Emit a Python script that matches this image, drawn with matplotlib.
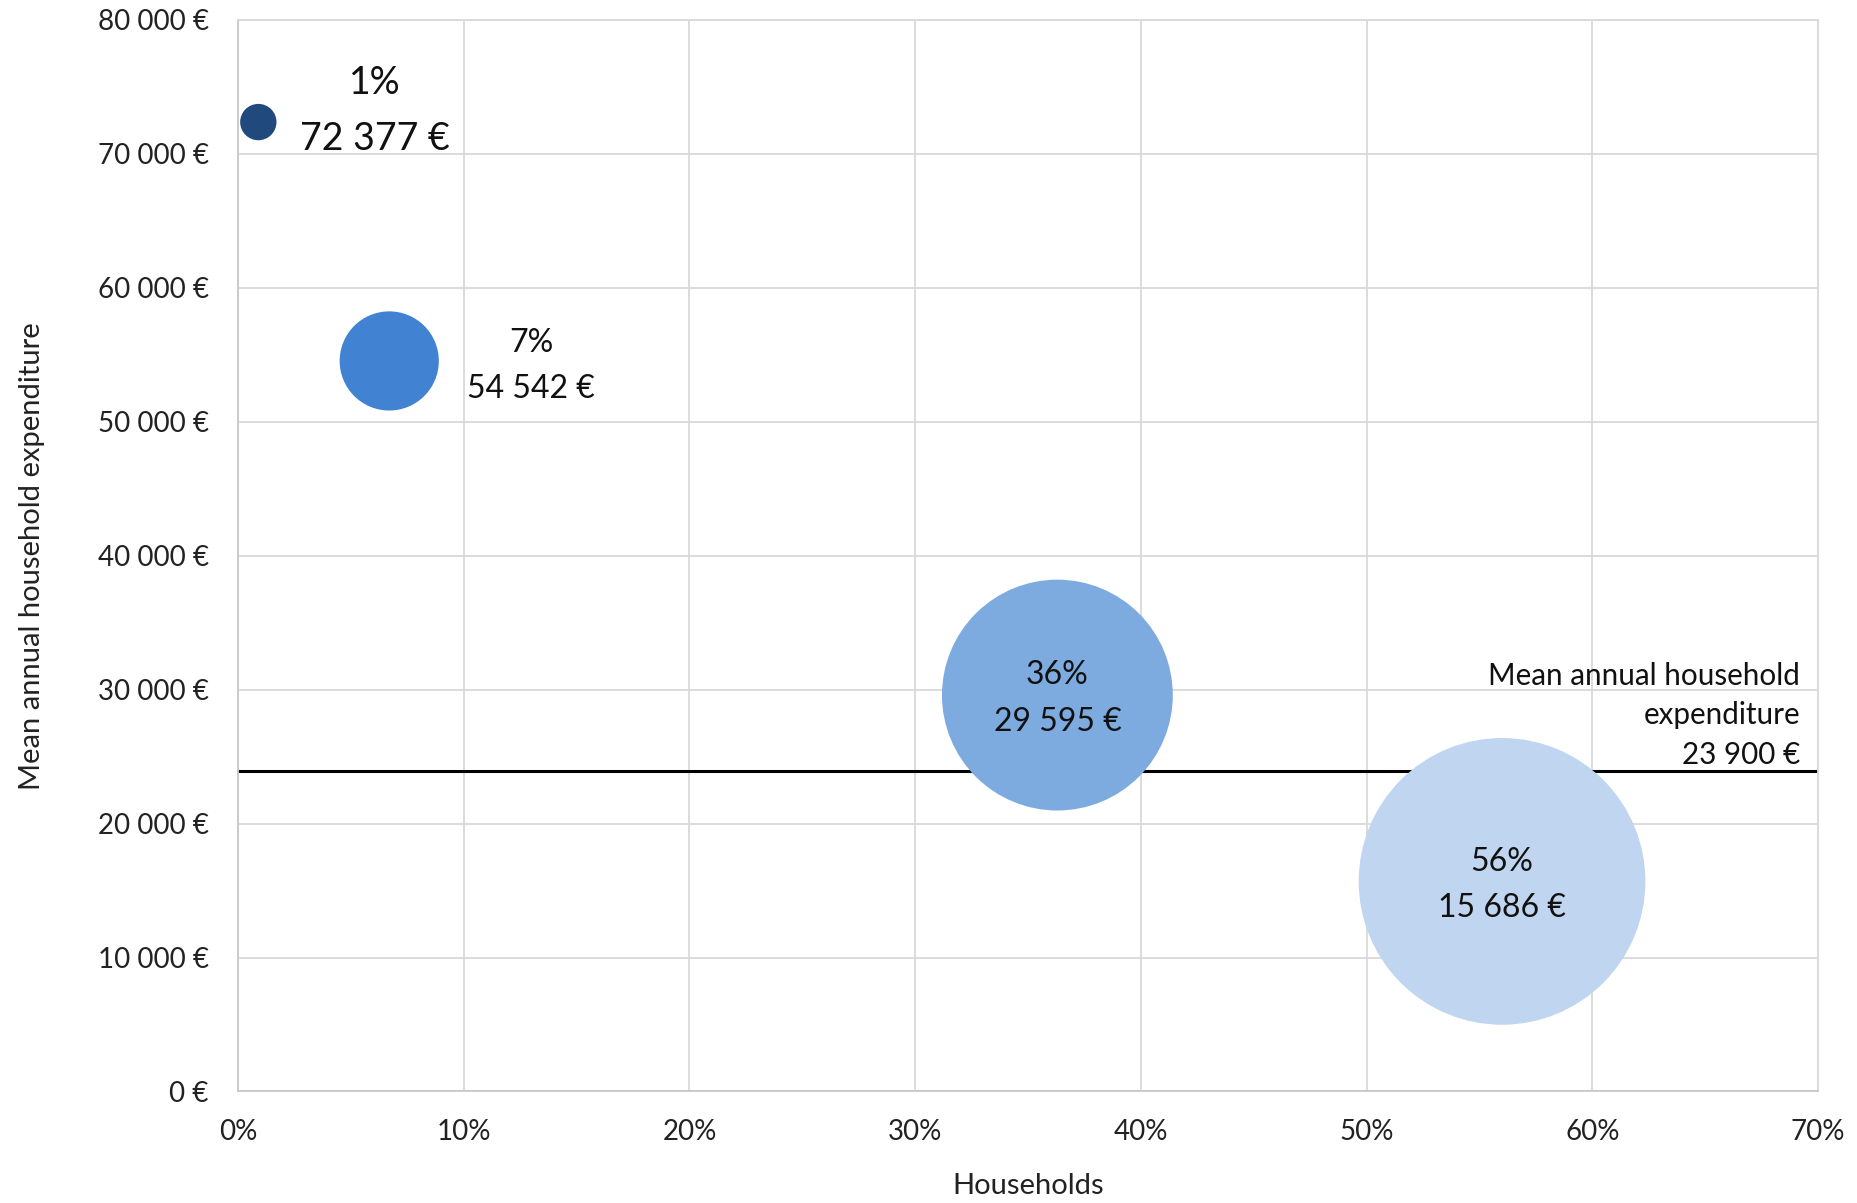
import matplotlib.pyplot as plt
from matplotlib.ticker import FuncFormatter, MultipleLocator

plt.rcParams['font.family'] = ['Lato', 'DejaVu Sans']

# household share (%) and mean annual expenditure (EUR) per group
shares = [0.9, 6.7, 36.3, 56.0]
spending = [72377, 54542, 29595, 15686]
colors = ['#204A7E', '#4182D2', '#7EABDF', '#C0D5EF']
mean_spending = 23900

# label offsets in points from bubble centre, and font sizes
label_offsets = [(84, 8), (102, -3.5), (0, -2.5), (0, -2.5)]
label_sizes = [27, 23, 23, 23]

BUBBLE_SCALE = 761  # marker area (pt^2) per percent of households


def eur(v):
    return '{:,.0f} €'.format(v).replace(',', ' ')


fig = plt.figure(figsize=(18.58, 12.03), dpi=100)
ax = fig.add_axes([0.1281, 0.0927, 0.8504, 0.8907])

ax.set_xlim(0, 70)
ax.set_ylim(0, 80000)
ax.xaxis.set_major_locator(MultipleLocator(10))
ax.yaxis.set_major_locator(MultipleLocator(10000))
ax.xaxis.set_major_formatter(FuncFormatter(lambda v, p: '{:.0f}%'.format(v)))
ax.yaxis.set_major_formatter(FuncFormatter(lambda v, p: eur(v)))
ax.grid(True, color='#D9D9D9', linewidth=1.3)
ax.set_axisbelow(True)
for s in ax.spines.values():
    s.set_color('#D9D9D9')
    s.set_linewidth(1.3)
ax.spines['left'].set_color('#C8C8C8')
ax.spines['bottom'].set_color('#C8C8C8')
ax.tick_params(length=0, labelsize=20, colors='#222222')
ax.tick_params(axis='y', pad=21)
ax.tick_params(axis='x', pad=20)

# overall mean line
ax.axhline(mean_spending, color='black', linewidth=2.2, zorder=2)
ax.annotate('Mean annual household\nexpenditure\n' + eur(mean_spending),
            xy=(70, mean_spending), xytext=(-13, 40.5), textcoords='offset points',
            ha='right', va='center', fontsize=21.3, linespacing=1.5,
            color='#111111')

ax.scatter(shares, spending, s=[v * BUBBLE_SCALE for v in shares],
           c=colors, linewidths=0, zorder=3, clip_on=False)

for x, y, (dx, dy), fs in zip(shares, spending, label_offsets, label_sizes):
    ax.annotate('{:.0f}%\n{}'.format(x, eur(y)), xy=(x, y), xytext=(dx, dy),
                textcoords='offset points', ha='center', va='center',
                fontsize=fs, linespacing=1.68, color='#111111', zorder=4)

fig.text(0.0172, 0.538, 'Mean annual household expenditure', rotation=90,
         ha='center', va='center', fontsize=21, color='#222222')
fig.text(0.5533, 0.0141, 'Households', ha='center', va='center',
         fontsize=21, color='#222222')

fig.savefig('out.png', dpi=100)
